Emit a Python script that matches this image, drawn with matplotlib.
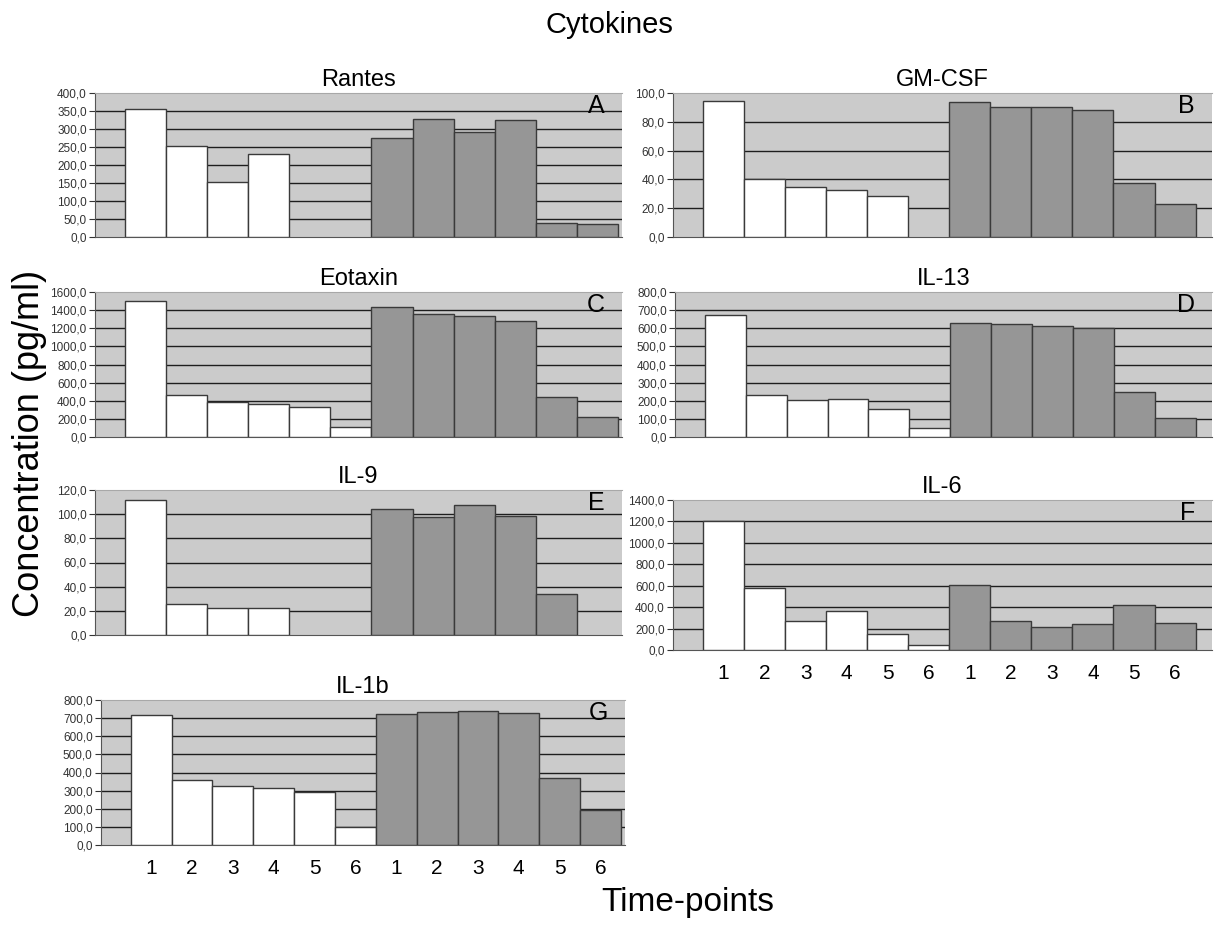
import numpy as np
import matplotlib.pyplot as plt
from matplotlib.ticker import FuncFormatter

plt.rcParams["font.family"] = ["Liberation Sans", "DejaVu Sans"]

# x labels: two groups of time-points (white = group 1, grey = group 2)
timepoints = ["1", "2", "3", "4", "5", "6"]

# values (pg/ml); None = no bar
rantes_white = [355, 253, 154, 230, None, None]
rantes_grey = [275, 328, 292, 326, 39, 37]

gmcsf_white = [94.7, 40.1, 34.8, 32.5, 28.5, None]
gmcsf_grey = [93.5, 90.5, 90.0, 88.0, 37.8, 23.0]

eotaxin_white = [1500, 463, 389, 359, 330, 115]
eotaxin_grey = [1433, 1352, 1333, 1285, 437, 226]

il13_white = [671, 231, 203, 207, 157, 52]
il13_grey = [628, 622, 613, 602, 248, 103]

il9_white = [111.4, 25.9, 22.6, 22.6, None, None]
il9_grey = [104.2, 97.5, 107.2, 98.3, 34.0, None]

il6_white = [1205, 580, 275, 363, 149, 45]
il6_grey = [609, 275, 214, 240, 421, 256]

il1b_white = [718, 360, 327, 317, 295, 100]
il1b_grey = [725, 733, 742, 729, 371, 192]

W, H = 1218, 925

# (title, letter, white, grey, ymax, step, [left, top, right, bottom] in px, x labels?)
panels = [
    ("Rantes", "A", rantes_white, rantes_grey, 400, 50, [95, 93, 622, 237], False),
    ("GM-CSF", "B", gmcsf_white, gmcsf_grey, 100, 20, [673, 93, 1212, 237], False),
    ("Eotaxin", "C", eotaxin_white, eotaxin_grey, 1600, 200, [95, 292, 622, 437], False),
    ("IL-13", "D", il13_white, il13_grey, 800, 100, [675, 292, 1212, 437], False),
    ("IL-9", "E", il9_white, il9_grey, 120, 20, [95, 490, 622, 635], False),
    ("IL-6", "F", il6_white, il6_grey, 1400, 200, [673, 500, 1212, 650], True),
    ("IL-1b", "G", il1b_white, il1b_grey, 800, 100, [101, 700, 625, 845], True),
]

fig = plt.figure(figsize=(W / 100, H / 100), dpi=100)

comma = FuncFormatter(lambda v, p: f"{v:.1f}".replace(".", ","))

for title, letter, white, grey, ymax, step, (l, t, r, b), xlab in panels:
    ax = fig.add_axes([l / W, 1 - b / H, (r - l) / W, (b - t) / H])
    ax.set_facecolor("#cbcbcb")

    values = list(white) + list(grey)
    colours = ["white"] * len(white) + ["#969696"] * len(grey)
    xs = [i for i, v in enumerate(values) if v is not None]
    ax.bar(xs, [values[i] for i in xs], width=1.0,
           color=[colours[i] for i in xs], edgecolor="#3a3a3a", linewidth=1.0, zorder=3)

    ticks = np.arange(0, ymax + step / 2, step)
    for yv in ticks[1:-1]:
        ax.axhline(yv, color="#1e1e1e", lw=1.0, zorder=1)
    ax.set_ylim(0, ymax)
    ax.set_yticks(ticks)
    ax.yaxis.set_major_formatter(comma)
    ax.tick_params(axis="y", labelsize=8.5, labelcolor="#333333", length=4,
                   color="#333333", pad=2)

    # right-hand column has a little more room after the last bar
    ax.set_xlim(-1.23, 11.9 if l > 600 else 11.6)
    if xlab:
        ax.set_xticks(range(12))
        ax.set_xticklabels(timepoints + timepoints, fontsize=15)
        ax.tick_params(axis="x", length=0, pad=10)
    else:
        ax.set_xticks([])

    ax.spines["right"].set_visible(False)
    ax.spines["top"].set_color("#a8a8a8")
    ax.spines["left"].set_color("#555555")
    ax.spines["bottom"].set_color("#555555")

    ax.set_title(title, fontsize=17, pad=5)
    ax.text(1 - 17 / (r - l), 0.995, letter, transform=ax.transAxes, ha="right",
            va="top", fontsize=18, zorder=4)

fig.text(0.5, 1 - 25 / H, "Cytokines", ha="center", va="center", fontsize=21)
fig.text(30 / W, 1 - 443 / H, "Concentration (pg/ml)", rotation=90,
         ha="center", va="center", fontsize=26)
fig.text(688 / W, 1 - 903 / H, "Time-points", ha="center", va="center", fontsize=24)

fig.savefig("out.png", dpi=100)
